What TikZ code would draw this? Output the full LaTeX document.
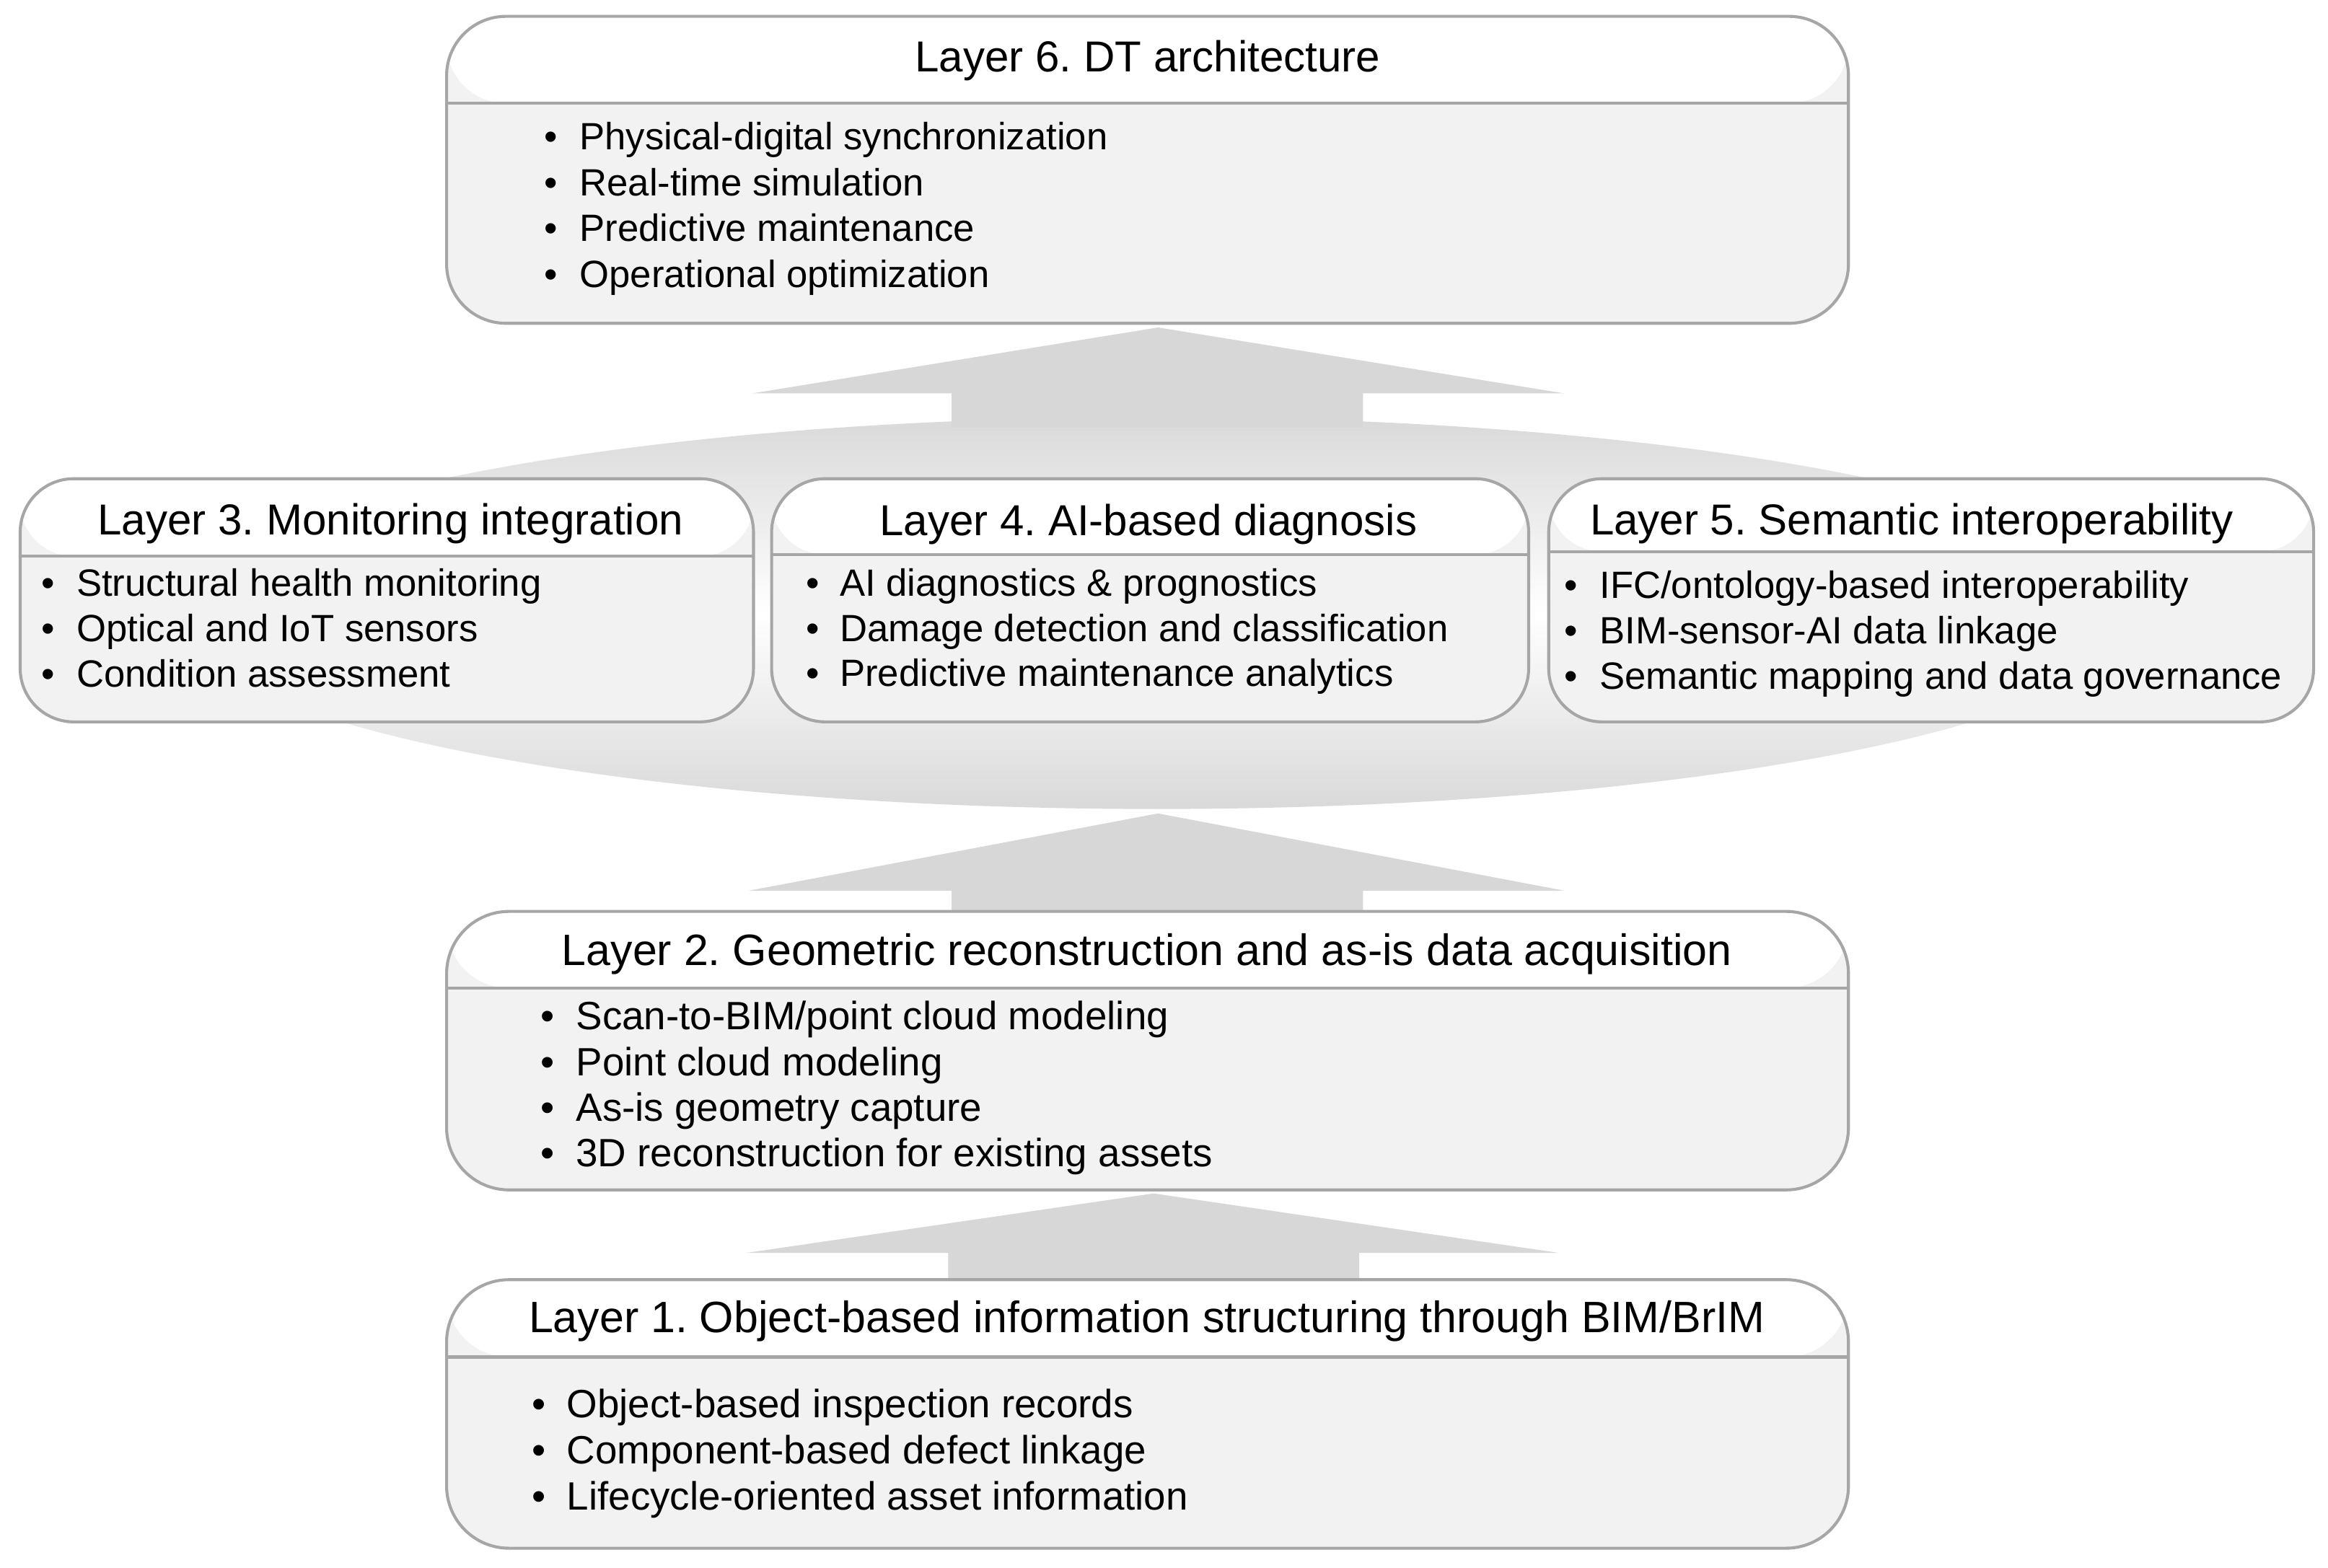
\documentclass[tikz,border=0pt]{standalone}
\usepackage{fontspec}
\setmainfont{Liberation Sans}
\frenchspacing
\definecolor{bordergray}{HTML}{A6A6A6}
\definecolor{bodygray}{HTML}{F2F2F2}
\definecolor{arrowgray}{HTML}{D7D7D7}
\definecolor{ellgray}{HTML}{D9D9D9}
\tikzset{
  layerbox/.style={draw=bordergray, line width=1pt, fill=bodygray, rectangle, inner sep=0pt},
  titletext/.style={anchor=base, inner sep=0pt, font=\fontsize{14.6}{17}\selectfont},
  bullettext/.style={anchor=base west, inner sep=0pt, font=\fontsize{12.8}{15}\selectfont},
  bulletdot/.style={anchor=base, inner sep=0pt, font=\fontsize{12.8}{15}\selectfont},
  blockarrow/.style={fill=arrowgray, draw=none},
}
\newcommand\layerbox[7]{%
  \pgfmathsetmacro\lbw{(#4-#2)*0.5}%
  \pgfmathsetmacro\lbh{(#5-#3)*0.5}%
  \pgfmathsetmacro\lbd{(#6-#3)*0.5}%
  \node[layerbox, rounded corners=#7pt, minimum width=\lbw pt, minimum height=\lbh pt,
    path picture={%
      \fill[white] (path picture bounding box.north west) rectangle ([yshift=-\lbd pt]path picture bounding box.north east);
      \draw[bordergray, line width=1pt] ([yshift=-\lbd pt]path picture bounding box.north west) -- ([yshift=-\lbd pt]path picture bounding box.north east);}]
    (#1) at ({(#2+#4)/2},{(#3+#5)/2}) {};%
}
\newcommand\bitem[5]{%
  \node[bulletdot] (#1d) at (#2,#4) {•};
  \node[bullettext] (#1) at (#3,#4) {#5};%
}
\begin{document}
\begin{tikzpicture}[x=0.5pt,y=-0.5pt]
\useasboundingbox (0,0) rectangle (1568,1056.3);
\fill[white] (0,0) rectangle (1568,1056.3);

% background ellipse behind the middle row
\shade[top color=ellgray, bottom color=ellgray, middle color=white]
  (779,413) ellipse [x radius=660, y radius=132];

% block arrows
\fill[blockarrow] (641,288) -- (641,265) -- (506.7,265) -- (780,220.6) -- (1053.4,265) -- (918,265) -- (918,288) -- cycle;
\fill[blockarrow] (641,614) -- (641,600) -- (504.6,600) -- (780,548) -- (1053.4,600) -- (918,600) -- (918,614) -- cycle;
\fill[blockarrow] (638.7,863) -- (638.7,844.1) -- (502.3,844.1) -- (777,804) -- (1050.3,844.1) -- (915.5,844.1) -- (915.5,863) -- cycle;

% boxes
\layerbox{L6}{300.8}{11}{1245}{217.8}{69.5}{20}
\layerbox{L3}{13.6}{322.5}{507.5}{486.3}{374.7}{18}
\layerbox{L4}{519.7}{322.5}{1029.6}{486.3}{373.5}{18}
\layerbox{L5}{1043.1}{322.5}{1558.3}{486.3}{371.5}{18}
\layerbox{L2}{300.8}{614}{1245}{801.6}{665.6}{21}
\layerbox{L1}{300.8}{862.1}{1245}{1043}{914.2}{21}

% Layer 6
\node[titletext] (t6) at (773,48.4) {Layer 6. DT architecture};
\bitem{b6a}{371}{390}{100.8}{Physical-digital synchronization}
\bitem{b6b}{371}{390}{131.7}{Real-time simulation}
\bitem{b6c}{371}{390}{162.5}{Predictive maintenance}
\bitem{b6d}{371}{390}{193.4}{Operational optimization}

% Layer 3
\node[titletext] (t3) at (263,360.5) {Layer 3. Monitoring integration};
\bitem{b3a}{32.4}{51.2}{401.5}{Structural health monitoring}
\bitem{b3b}{32.4}{51.2}{432.1}{Optical and IoT sensors}
\bitem{b3c}{32.4}{51.2}{462.7}{Condition assessment}

% Layer 4
\node[titletext] (t4) at (773.5,361) {Layer 4. AI-based diagnosis};
\bitem{b4a}{547.3}{565.3}{401.5}{AI diagnostics \& prognostics}
\bitem{b4b}{547.3}{565.3}{432}{Damage detection and classification}
\bitem{b4c}{547.3}{565.3}{462.5}{Predictive maintenance analytics}

% Layer 5
\node[titletext] (t5) at (1287.6,360.5) {Layer 5. Semantic interoperability};
\bitem{b5a}{1058.3}{1077}{403}{IFC/ontology-based interoperability}
\bitem{b5b}{1058.3}{1077}{433.8}{BIM-sensor-AI data linkage}
\bitem{b5c}{1058.3}{1077}{464.5}{Semantic mapping and data governance}

\begin{scope}[titletext/.append style={font=\fontsize{14.8}{17}\selectfont},
              bullettext/.append style={font=\fontsize{13.3}{16}\selectfont},
              bulletdot/.append style={font=\fontsize{13.3}{16}\selectfont}]
% Layer 2
\node[titletext] (t2) at (772.5,650.3) {Layer 2. Geometric reconstruction and as-is data acquisition};
\bitem{b2a}{368.7}{387.6}{693.7}{Scan-to-BIM/point cloud modeling}
\bitem{b2b}{368.7}{387.6}{724.5}{Point cloud modeling}
\bitem{b2c}{368.7}{387.6}{755.3}{As-is geometry capture}
\bitem{b2d}{368.7}{387.6}{786.1}{3D reconstruction for existing assets}

% Layer 1
\node[titletext] (t1) at (772.4,897.7) {Layer 1. Object-based information structuring through BIM/BrIM};
\bitem{b1a}{363.2}{381.4}{955}{Object-based inspection records}
\bitem{b1b}{363.2}{381.4}{986}{Component-based defect linkage}
\bitem{b1c}{363.2}{381.4}{1017}{Lifecycle-oriented asset information}
\end{scope}
\end{tikzpicture}
\end{document}
